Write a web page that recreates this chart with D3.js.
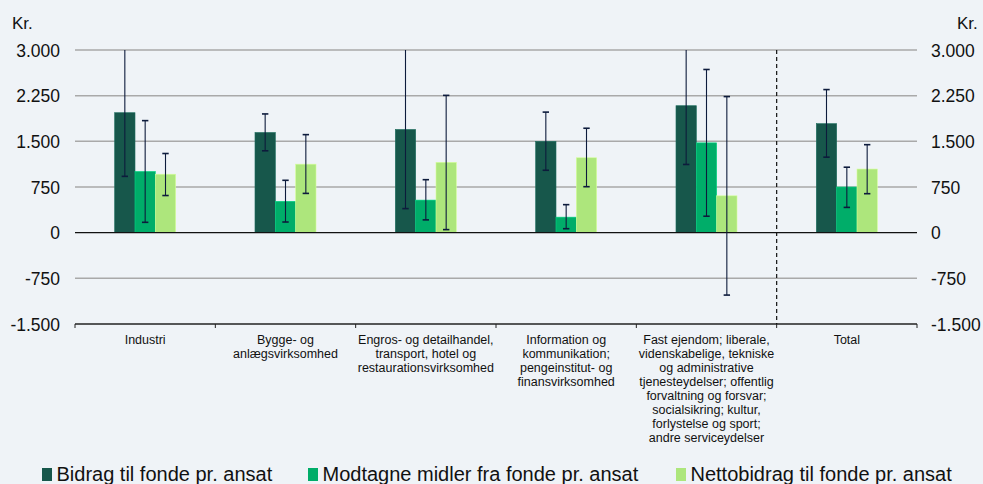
<!DOCTYPE html>
<html>
<head>
<meta charset="utf-8">
<script src="https://cdn.jsdelivr.net/npm/d3@7"></script>
<style>
  body { margin: 0; background: #eff3f7; }
  svg { font-family: "Liberation Sans", Arial, sans-serif; }
</style>
</head>
<body>
<div id="chart"></div>
<script>
// kategorier (linjer som i figuren)
var categories = [
    ["Industri"],
    ["Bygge- og", "anlægsvirksomhed"],
    ["Engros- og detailhandel,", "transport, hotel og", "restaurationsvirksomhed"],
    ["Information og", "kommunikation;", "pengeinstitut- og", "finansvirksomhed"],
    ["Fast ejendom; liberale,", "videnskabelige, tekniske", "og administrative", "tjenesteydelser; offentlig", "forvaltning og forsvar;", "socialsikring; kultur,", "forlystelse og sport;", "andre serviceydelser"],
    ["Total"]
];
var seriesNames = ["Bidrag til fonde pr. ansat", "Modtagne midler fra fonde pr. ansat", "Nettobidrag til fonde pr. ansat"];
var seriesColors = ["#17574b", "#00ad69", "#ade67c"];

var bidrag     = [1970, 1645, 1695, 1500, 2085, 1790];
var bidragLo   = [925, 1345, 395, 1025, 1120, 1240];
var bidragHi   = [3300, 1950, 3300, 1980, 3300, 2350];

var modtagne   = [1005, 515, 535, 255, 1475, 750];
var modtagneLo = [170, 175, 210, 65, 270, 415];
var modtagneHi = [1840, 860, 870, 460, 2680, 1075];

var netto      = [960, 1125, 1155, 1230, 605, 1045];
var nettoLo    = [610, 645, 50, 755, -1025, 640];
var nettoHi    = [1300, 1610, 2255, 1715, 2235, 1445];

var yTicks = [-1500, -750, 0, 750, 1500, 2250, 3000];

var series = [
    {vals: bidrag, lo: bidragLo, hi: bidragHi},
    {vals: modtagne, lo: modtagneLo, hi: modtagneHi},
    {vals: netto, lo: nettoLo, hi: nettoHi}
];

var W = 983, H = 484;
var m = {left: 75, right: 66, top: 50, bottom: 160};

var svg = d3.select("#chart").append("svg")
    .attr("width", W).attr("height", H);
svg.append("rect").attr("width", W).attr("height", H).attr("fill", "#eff3f7");

var x = d3.scaleBand()
    .domain(d3.range(categories.length))
    .range([m.left, W - m.right])
    .paddingInner(0).paddingOuter(0);
var xs = d3.scaleBand()
    .domain(d3.range(series.length))
    .range([0, x.bandwidth()])
    .paddingInner(0).paddingOuter(1.95);
var y = d3.scaleLinear().domain([-1500, 3000]).range([H - m.bottom, m.top]);

// dansk format: punktum som tusindtalsseparator, almindelig bindestreg som minus
var fmt = function(v) {
    return d3.format(",")(v).replace(/,/g, ".").replace("\u2212", "-");
};

// gitterlinjer
svg.append("g").selectAll("line")
    .data(yTicks.filter(d => d !== 0 && d !== -1500))
    .join("line")
    .attr("x1", m.left).attr("x2", W - m.right)
    .attr("y1", d => y(d)).attr("y2", d => y(d))
    .attr("stroke", "#a9a9a9").attr("stroke-width", 1.5);

// akser - tal
svg.append("g").selectAll("text")
    .data(yTicks).join("text")
    .attr("x", 60).attr("y", d => y(d) + 6.5)
    .attr("text-anchor", "end")
    .attr("font-size", 17.5).attr("fill", "#111")
    .text(fmt);
svg.append("g").selectAll("text")
    .data(yTicks).join("text")
    .attr("x", 931).attr("y", d => y(d) + 6.5)
    .attr("text-anchor", "start")
    .attr("font-size", 17.5).attr("fill", "#111")
    .text(fmt);
svg.append("text").attr("x", 12).attr("y", 29).attr("font-size", 17).attr("fill", "#111").text("Kr.");
svg.append("text").attr("x", 957).attr("y", 29).attr("font-size", 17).attr("fill", "#111").text("Kr.");

// clip for fejlstreger
svg.append("clipPath").attr("id", "plotclip")
    .append("rect").attr("x", m.left).attr("y", m.top)
    .attr("width", W - m.left - m.right).attr("height", H - m.top - m.bottom);

// søjler
series.forEach(function(s, si) {
    svg.append("g").selectAll("rect")
        .data(s.vals).join("rect")
        .attr("x", (d, i) => x(i) + xs(si))
        .attr("width", xs.bandwidth())
        .attr("y", d => y(Math.max(0, d)))
        .attr("height", d => Math.abs(y(d) - y(0)))
        .attr("fill", seriesColors[si])
        .attr("stroke", d3.color(seriesColors[si]).brighter(0.6))
        .attr("stroke-width", 0.6);
});

// nul-linje
svg.append("line")
    .attr("x1", m.left).attr("x2", W - m.right)
    .attr("y1", y(0)).attr("y2", y(0))
    .attr("stroke", "#111").attr("stroke-width", 1.3);

// fejlstreger
var eb = svg.append("g").attr("clip-path", "url(#plotclip)");
series.forEach(function(s, si) {
    s.vals.forEach(function(v, i) {
        var cx = x(i) + xs(si) + xs.bandwidth() / 2;
        var g = eb.append("g").attr("stroke", "#0d1b3c").attr("stroke-width", 1.1);
        g.append("line").attr("x1", cx).attr("x2", cx).attr("y1", y(s.hi[i])).attr("y2", y(s.lo[i]));
        [s.hi[i], s.lo[i]].forEach(function(e) {
            g.append("line").attr("x1", cx - 3.2).attr("x2", cx + 3.2)
                .attr("y1", y(e)).attr("y2", y(e)).attr("stroke-width", 1.6);
        });
    });
});

// x-akse
var axisY = y(-1500);
svg.append("line")
    .attr("x1", m.left).attr("x2", W - m.right)
    .attr("y1", axisY).attr("y2", axisY)
    .attr("stroke", "#222").attr("stroke-width", 1.3);
svg.append("g").selectAll("line")
    .data(d3.range(categories.length + 1)).join("line")
    .attr("x1", d => m.left + d * x.bandwidth()).attr("x2", d => m.left + d * x.bandwidth())
    .attr("y1", axisY).attr("y2", axisY + 4)
    .attr("stroke", "#222").attr("stroke-width", 1);

// stiplet linje før Total
var sepX = x(categories.length - 1);
svg.append("line")
    .attr("x1", sepX).attr("x2", sepX)
    .attr("y1", m.top).attr("y2", axisY)
    .attr("stroke", "#111").attr("stroke-width", 1.2)
    .attr("stroke-dasharray", "4,3");

// kategori-tekster
var labs = svg.append("g").attr("font-size", 12.5).attr("fill", "#111").attr("text-anchor", "middle");
categories.forEach(function(lines, i) {
    var t = labs.append("text").attr("y", axisY + 19.5);
    lines.forEach(function(l, li) {
        t.append("tspan").attr("x", x(i) + x.bandwidth() / 2)
            .attr("dy", li === 0 ? 0 : 14.05).text(l);
    });
});

// legende
var legX = [42, 308, 676];
var leg = svg.append("g");
seriesNames.forEach(function(n, i) {
    leg.append("rect").attr("x", legX[i]).attr("y", 468).attr("width", 10).attr("height", 13)
        .attr("fill", seriesColors[i]);
    leg.append("text").attr("x", legX[i] + 14.5).attr("y", 481)
        .attr("font-size", 20).attr("fill", "#111")
        .text(n);
});
</script>
</body>
</html>
